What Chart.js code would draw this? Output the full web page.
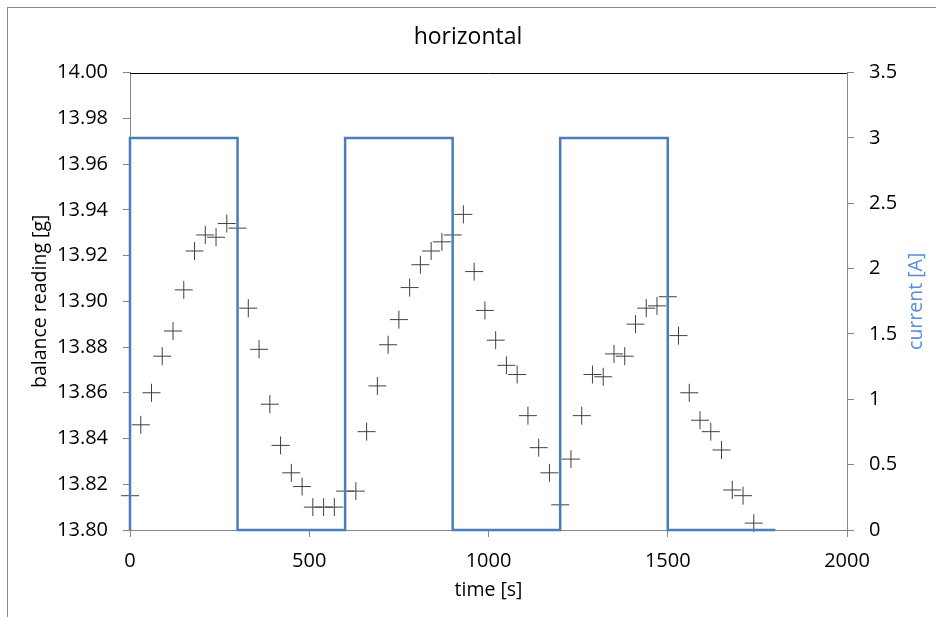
<!DOCTYPE html>
<html>
<head>
<meta charset="utf-8">
<script src="https://cdn.jsdelivr.net/npm/chart.js@4.4.0/dist/chart.umd.min.js"></script>
<style>
  body { margin: 0; background: #fff; }
  canvas { display: block; }
</style>
</head>
<body>
<canvas id="grafico" width="936" height="617"></canvas>
<script>
// balance readings, one every 30 s
const sampleTimes = [
    0, 30, 60, 90, 120, 150, 180, 210, 240, 270, 300, 330, 360, 390, 420, 450, 480, 510, 540, 570,
    600, 630, 660, 690, 720, 750, 780, 810, 840, 870, 900, 930, 960, 990, 1020, 1050, 1080, 1110, 1140, 1170,
    1200, 1230, 1260, 1290, 1320, 1350, 1380, 1410, 1440, 1470, 1500, 1530, 1560, 1590, 1620, 1650, 1680, 1710, 1740
];
const balanceReadings = [
    13.815, 13.846, 13.860, 13.876, 13.887, 13.905, 13.922, 13.929, 13.928, 13.934,
    13.932, 13.897, 13.879, 13.855, 13.837, 13.825, 13.819, 13.810, 13.810, 13.810,
    13.817, 13.817, 13.843, 13.863, 13.881, 13.892, 13.906, 13.916, 13.922, 13.926,
    13.929, 13.938, 13.913, 13.896, 13.883, 13.872, 13.868, 13.850, 13.836, 13.825,
    13.811, 13.831, 13.850, 13.868, 13.867, 13.877, 13.876, 13.890, 13.897, 13.898,
    13.902, 13.885, 13.860, 13.848, 13.843, 13.835, 13.8175, 13.815, 13.803
];

// current switched on/off
const currentTimes = [0, 0, 300, 300, 600, 600, 900, 900, 1200, 1200, 1500, 1500, 1800];
const currentValues = [0, 3, 3, 0, 0, 3, 3, 0, 0, 3, 3, 0, 0];

const timeTicks = [0, 500, 1000, 1500, 2000];
const balanceTicks = [13.80, 13.82, 13.84, 13.86, 13.88, 13.90, 13.92, 13.94, 13.96, 13.98, 14.00];
const currentTicks = [0, 0.5, 1, 1.5, 2, 2.5, 3, 3.5];

const FONT = "'Open Sans', sans-serif";
const AXIS_GREY = '#868686';
const BLUE = '#4a7ebb';

document.addEventListener('DOMContentLoaded', function() {
    const ctx = document.getElementById('grafico').getContext('2d');

    const readingPoints = sampleTimes.map((t, i) => ({ x: t, y: balanceReadings[i] }));
    const currentPoints = currentTimes.map((t, i) => ({ x: t, y: currentValues[i] }));

    const framePlugin = {
        id: 'frame',
        beforeDraw(chart) {
            const c = chart.ctx;
            c.save();
            c.strokeStyle = '#898989';
            c.lineWidth = 1;
            c.strokeRect(7.5, 7.5, 1000, 1000);
            c.restore();
        },
        afterDraw(chart) {
            const c = chart.ctx;
            const a = chart.chartArea;
            c.save();
            c.strokeStyle = '#000';
            c.lineWidth = 1;
            c.beginPath();
            c.moveTo(a.left, Math.round(a.top) + 0.5);
            c.lineTo(a.right, Math.round(a.top) + 0.5);
            c.stroke();
            // right axis title reads bottom-to-top
            c.translate(916, (a.top + a.bottom) / 2);
            c.rotate(-Math.PI / 2);
            c.fillStyle = '#558ed5';
            c.font = "19.5px " + FONT;
            c.textAlign = 'center';
            c.textBaseline = 'middle';
            c.fillText('current [A]', 0, 0);
            c.restore();
        }
    };

    new Chart(ctx, {
        type: 'scatter',
        data: {
            datasets: [{
                label: 'current',
                data: currentPoints,
                yAxisID: 'y2',
                showLine: true,
                borderColor: BLUE,
                borderWidth: 2.5,
                pointRadius: 0,
                fill: false,
                clip: false,
                order: 0
            }, {
                label: 'balance',
                data: readingPoints,
                yAxisID: 'y',
                pointStyle: 'cross',
                pointRadius: 9,
                pointBorderWidth: 1,
                borderColor: '#404040',
                backgroundColor: '#404040',
                clip: false,
                order: 1
            }]
        },
        options: {
            responsive: false,
            animation: false,
            events: [],
            layout: { padding: 0 },
            plugins: {
                legend: { display: false },
                tooltip: { enabled: false },
                title: {
                    display: true,
                    text: 'horizontal',
                    color: '#000',
                    font: { family: FONT, size: 23, weight: 'normal' },
                    padding: { top: 24, bottom: 21 }
                }
            },
            scales: {
                x: {
                    type: 'linear',
                    position: 'bottom',
                    min: 0,
                    max: 2000,
                    afterBuildTicks: scale => { scale.ticks = timeTicks.map(v => ({ value: v })); },
                    afterFit: scale => { scale.height = 87; },
                    grid: { drawOnChartArea: false, tickLength: 7, color: AXIS_GREY },
                    border: { color: AXIS_GREY },
                    ticks: {
                        color: '#000',
                        padding: 12,
                        maxRotation: 0,
                        font: { family: FONT, size: 20 },
                        callback: v => String(v)
                    },
                    title: {
                        display: true,
                        text: 'time [s]',
                        color: '#000',
                        font: { family: FONT, size: 19.5 },
                        padding: { top: 0, bottom: 15 }
                    }
                },
                y: {
                    type: 'linear',
                    position: 'left',
                    min: 13.80,
                    max: 14.00,
                    afterBuildTicks: scale => { scale.ticks = balanceTicks.map(v => ({ value: v })); },
                    afterFit: scale => { scale.width = 130; },
                    grid: { drawOnChartArea: false, tickLength: 7, color: AXIS_GREY },
                    border: { color: AXIS_GREY },
                    ticks: {
                        color: '#000',
                        padding: 15,
                        font: { family: FONT, size: 20 },
                        callback: v => Number(v).toFixed(2)
                    },
                    title: {
                        display: true,
                        text: 'balance reading [g]',
                        color: '#000',
                        font: { family: FONT, size: 19.5 },
                        padding: { top: 29, bottom: 0 }
                    }
                },
                y2: {
                    type: 'linear',
                    position: 'right',
                    min: 0,
                    max: 3.5,
                    afterBuildTicks: scale => { scale.ticks = currentTicks.map(v => ({ value: v })); },
                    afterFit: scale => { scale.width = 89; },
                    grid: { drawOnChartArea: false, tickLength: 7, color: AXIS_GREY },
                    border: { color: AXIS_GREY },
                    ticks: {
                        color: '#000',
                        padding: 15,
                        font: { family: FONT, size: 20 },
                        callback: v => String(v)
                    }
                }
            }
        },
        plugins: [framePlugin]
    });
});
</script>
</body>
</html>
